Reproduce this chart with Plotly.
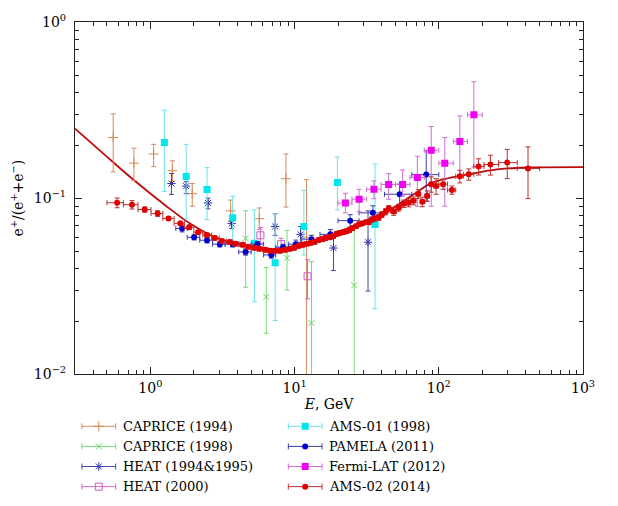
import math
import plotly.graph_objects as go

# ---------------- data ----------------
# CAPRICE (1994)
cap94_E = [0.552, 0.769, 1.053, 1.42, 1.95, 3.60, 5.69, 8.71, 12.1]
cap94_r = [0.221, 0.158, 0.178, 0.143, 0.106, 0.0847, 0.0764, 0.129, 0.060]
cap94_up = [0.080, 0.034, 0.024, 0.020, 0.015, 0.0128, 0.0116, 0.049, 0.0675]
cap94_dn = [0.080, 0.032, 0.027, 0.019, 0.016, 0.0111, 0.0100, 0.040, 0.0675]

# CAPRICE (1998)
cap98_E = [4.57, 6.36, 8.86, 13.1, 25.9]
cap98_r = [0.0592, 0.0275, 0.0458, 0.0195, 0.032]
cap98_up = [0.0255, 0.0128, 0.0198, 0.0241, 0.036]
cap98_dn = [0.0280, 0.0104, 0.0157, 0.0241, 0.036]

# HEAT (1994&1995)
heat94_E = [1.40, 1.77, 2.51, 3.66, 7.33, 11.0, 18.6, 32.3]
heat94_r = [0.121, 0.117, 0.0938, 0.0717, 0.069, 0.0623, 0.0521, 0.0562]
heat94_up = [0.017, 0.007, 0.0062, 0.0047, 0.0125, 0.0067, 0.0094, 0.0285]
heat94_dn = [0.016, 0.011, 0.0069, 0.0044, 0.0075, 0.0061, 0.0133, 0.0265]

# HEAT (2000)
heat00_E = [5.79, 8.06, 12.3]
heat00_r = [0.0615, 0.0548, 0.036]
heat00_up = [0.0066, 0.0044, 0.0087]
heat00_dn = [0.0060, 0.0047, 0.0092]

# AMS-01 (1998)
ams01_E = [1.25, 1.77, 2.47, 3.72, 5.26, 7.33, 11.6, 19.8, 36.1]
ams01_r = [0.207, 0.1325, 0.112, 0.0774, 0.0555, 0.043, 0.069, 0.1227, 0.0708]
ams01_up = [0.109, 0.0695, 0.037, 0.0252, 0.0303, 0.0385, 0.0417, 0.0483, 0.0857]
ams01_dn = [0.098, 0.0561, 0.0365, 0.0233, 0.0297, 0.0228, 0.0214, 0.0369, 0.0472]

# PAMELA (2011)
pam_E = [1.66, 2.01, 2.47, 3.03, 3.72, 4.57, 5.52, 6.89, 8.32, 10.2, 13.1, 17.7,
         24.3, 34.9, 53.5, 81.8]
pam_r = [0.0673, 0.0599, 0.0577, 0.0548, 0.0548, 0.0495, 0.0548, 0.0476, 0.0527,
         0.0548, 0.0585, 0.0623, 0.0745, 0.0825, 0.1052, 0.136]
pam_up = [0.003, 0.002, 0.002, 0.002, 0.002, 0.002, 0.002, 0.002, 0.002, 0.003,
          0.003, 0.004, 0.006, 0.008, 0.015, 0.050]
pam_dn = [0.003, 0.002, 0.002, 0.002, 0.002, 0.002, 0.002, 0.002, 0.002, 0.003,
          0.003, 0.004, 0.006, 0.008, 0.015, 0.040]
pam_edges = [1.5, 1.8, 2.2, 2.7, 3.3, 4.1, 5.0, 6.1, 7.4, 9.1, 11.2, 15, 20, 28,
             42, 65, 100]

# Fermi-LAT (2012)
fermi_E = [22.5, 28.0, 35.5, 44.9, 56.1, 71.0, 88.6, 110, 140, 175]
fermi_r = [0.0938, 0.0987, 0.1122, 0.1196, 0.1196, 0.1309, 0.187, 0.158, 0.21, 0.297]
fermi_up = [0.0128, 0.0135, 0.013, 0.018, 0.025, 0.042, 0.068, 0.063, 0.083, 0.161]
fermi_dn = [0.0113, 0.0150, 0.013, 0.021, 0.017, 0.041, 0.097, 0.068, 0.078, 0.147]
fermi_edges = [20, 25, 31.6, 39.8, 50.1, 63.1, 79.4, 100, 126, 158, 200]

# AMS-02 (2014)
ams02_E = [0.588, 0.745, 0.914, 1.122, 1.335, 1.613, 1.859, 2.142, 2.469, 2.802,
           3.128, 3.548, 3.900, 4.356, 4.787, 5.263, 5.695, 6.262, 6.773, 7.332,
           7.930, 8.583, 9.286, 9.890, 10.70, 11.40, 12.14, 12.93, 13.77, 14.67,
           15.63, 16.38, 17.45, 18.59, 19.49, 20.43, 21.76, 22.82, 23.92, 25.07,
           26.71, 28.01, 29.37, 31.28, 32.80, 34.39, 36.05, 38.39, 40.25, 42.87,
           44.96, 48.64, 52.63, 56.95, 61.62, 66.68, 72.15, 76.85, 83.18, 88.60,
           95.83, 107.0, 123.4, 139.9, 161.3, 188.8, 228.1, 298.3, 415.5]
ams02_r = [0.0942, 0.0918, 0.0861, 0.0818, 0.0767, 0.0719, 0.0684, 0.0641, 0.0617, 0.0594,
           0.0571, 0.0564, 0.0550, 0.0543, 0.0529, 0.0522, 0.0516, 0.0509, 0.0503, 0.0503,
           0.0503, 0.0509, 0.0516, 0.0522, 0.0536, 0.0543, 0.0550, 0.0557, 0.0564, 0.0579,
           0.0586, 0.0594, 0.0601, 0.0609, 0.0625, 0.0633, 0.0641, 0.0649, 0.0658, 0.0675,
           0.0692, 0.0710, 0.0719, 0.0729, 0.0729, 0.0757, 0.0767, 0.0777, 0.0807, 0.0839,
           0.0872, 0.0839, 0.0883, 0.0930, 0.0942, 0.0966, 0.1057, 0.0954, 0.1030, 0.1201,
           0.1171, 0.1201, 0.1112, 0.1330, 0.1365, 0.1513, 0.1552, 0.1591, 0.1474]
ams02_err = [0.006, 0.005, 0.003, 0.003, 0.002, 0.002, 0.002, 0.0015, 0.0015, 0.0015,
             0.0015, 0.0015, 0.0015, 0.0015, 0.0015, 0.0015, 0.0015, 0.0015, 0.0015, 0.0015,
             0.0015, 0.0015, 0.0015, 0.0015, 0.0015, 0.0015, 0.0015, 0.0015, 0.0015, 0.0015,
             0.002, 0.002, 0.002, 0.002, 0.002, 0.002, 0.002, 0.002, 0.002, 0.002,
             0.002, 0.002, 0.002, 0.002, 0.002, 0.0025, 0.0025, 0.003, 0.003, 0.0035,
             0.0035, 0.004, 0.004, 0.0045, 0.005, 0.005, 0.006, 0.006, 0.007, 0.012,
             0.012, 0.008, 0.006, 0.011, 0.010, 0.016, 0.020, 0.030, 0.048]
ams02_edges = [0.5, 0.65, 0.82, 1.01, 1.22, 1.46, 1.72, 2.0, 2.31, 2.65, 3.0, 3.36,
               3.73, 4.12, 4.54, 5.0, 5.49, 6.0, 6.54, 7.1, 7.69, 8.3, 8.95, 9.62,
               10.32, 11.04, 11.8, 12.59, 13.41, 14.25, 15.14, 16.05, 17.0, 17.98,
               18.99, 20.04, 21.13, 22.25, 23.42, 24.62, 25.9, 27.25, 28.68, 30.21,
               31.82, 33.53, 35.36, 37.31, 39.39, 41.61, 44.0, 46.57, 50.8, 54.8,
               59.3, 64.1, 69.4, 74.5, 80.0, 86.0, 92.0, 100.0, 115.0, 131.0, 148.0,
               175.0, 206.0, 260.0, 350.0, 500.0]

# model curve
model_E = [0.3, 0.487, 0.756, 1.253, 1.918, 2.89, 4.42, 6.77, 9.28, 11.4, 18.3,
           29.4, 47.1, 64.6, 88.6, 115.8, 135.6, 174.6, 228, 298, 415, 1000]
model_r = [0.248, 0.175, 0.128, 0.0918, 0.0710, 0.0594, 0.0543, 0.0509, 0.0509,
           0.0536, 0.0617, 0.0729, 0.0872, 0.1030, 0.1216, 0.1297, 0.1330, 0.1383,
           0.1437, 0.1474, 0.1493, 0.150]

labels = ["CAPRICE (1994)", "CAPRICE (1998)", "HEAT (1994&amp;1995)", "HEAT (2000)",
          "AMS-01 (1998)", "PAMELA (2011)", "Fermi-LAT (2012)", "AMS-02 (2014)"]

x_ticks = [1, 10, 100, 1000]
x_ticktext = ["10<sup>0</sup>", "10<sup>1</sup>", "10<sup>2</sup>", "10<sup>3</sup>"]
y_ticks = [0.01, 0.1, 1]
y_ticktext = ["10<sup>\u22122</sup>", "10<sup>\u22121</sup>", "10<sup>0</sup>"]

# ---------------- styles ----------------
FONT = "DejaVu Serif, serif"
FS = 14
FS_LEG = 13
styles = [
    dict(marker=dict(symbol="cross-thin", size=7, color="rgb(214,134,88)",
                     line=dict(width=1, color="rgb(214,134,88)")), ecol="rgb(214,140,95)"),
    dict(marker=dict(symbol="x-thin", size=6, color="rgb(100,210,100)",
                     line=dict(width=1, color="rgb(100,210,100)")), ecol="rgb(120,220,120)"),
    dict(marker=dict(symbol="asterisk", size=7, color="rgb(50,50,170)",
                     line=dict(width=1, color="rgb(50,50,170)")), ecol="rgb(70,70,170)"),
    dict(marker=dict(symbol="square-open", size=7, color="rgb(205,90,200)",
                     line=dict(width=1, color="rgb(205,90,200)")), ecol="rgb(215,100,205)"),
    dict(marker=dict(symbol="square", size=7, color="rgb(0,230,235)",
                     line=dict(width=0)), ecol="rgb(110,225,235)"),
    dict(marker=dict(symbol="circle", size=6, color="rgb(0,0,205)",
                     line=dict(width=0)), ecol="rgb(60,60,170)"),
    dict(marker=dict(symbol="square", size=7, color="rgb(240,0,240)",
                     line=dict(width=0)), ecol="rgb(205,110,210)"),
    dict(marker=dict(symbol="circle", size=6, color="rgb(225,0,0)",
                     line=dict(width=0)), ecol="rgb(185,50,50)"),
]


def xerr_from_edges(E, edges):
    lo = [E[i] - edges[i] for i in range(len(E))]
    hi = [edges[i + 1] - E[i] for i in range(len(E))]
    return lo, hi


fig = go.Figure()

# model curve
fig.add_trace(go.Scatter(x=model_E, y=model_r, mode="lines",
                         line=dict(color="rgb(190,10,10)", width=1.8, shape="spline"),
                         hoverinfo="skip"))

sets = [
    (cap94_E, cap94_r, cap94_up, cap94_dn, None),
    (cap98_E, cap98_r, cap98_up, cap98_dn, None),
    (heat94_E, heat94_r, heat94_up, heat94_dn, None),
    (heat00_E, heat00_r, heat00_up, heat00_dn, None),
    (ams01_E, ams01_r, ams01_up, ams01_dn, None),
    (pam_E, pam_r, pam_up, pam_dn, pam_edges),
    (fermi_E, fermi_r, fermi_up, fermi_dn, fermi_edges),
    (ams02_E, ams02_r, ams02_err, ams02_err, ams02_edges),
]

for (E, r, up, dn, edges), st, name in zip(sets, styles, labels):
    kw = {}
    if edges is not None:
        lo, hi = xerr_from_edges(E, edges)
        kw["error_x"] = dict(type="data", symmetric=False, array=hi, arrayminus=lo,
                             color=st["ecol"], thickness=1, width=2.5)
    fig.add_trace(go.Scatter(
        x=E, y=r, mode="markers", name=name, marker=st["marker"],
        error_y=dict(type="data", symmetric=False, array=up, arrayminus=dn,
                     color=st["ecol"], thickness=1, width=2.5),
        **kw))

# ---------------- page geometry ----------------
# the html body shifts the figure 8px to the right
XOFF = 8
W, H = 618 - XOFF, 498
L, R, T, B = 71 - XOFF, 35, 13, 4
plot_h = H - T - B
ybottom_dom = (H - B - 372) / plot_h
leg_top = 0.25
paper_bottom = H - B

# ---------------- custom legend (two columns, gnuplot style) ----------------
row_y = [425, 445.5, 466, 486.5]
col_x = [95, 303]
half_len = 17
for i, (name, st) in enumerate(zip(labels, styles)):
    c, rr = divmod(i, 4)
    fig.add_trace(go.Scatter(
        x=[col_x[c]], y=[row_y[rr]], mode="markers", xaxis="x2", yaxis="y2",
        marker=st["marker"], hoverinfo="skip",
        error_x=dict(type="constant", value=half_len, color=st["ecol"],
                     thickness=1, width=3)))
    fig.add_annotation(x=col_x[c] + 22, y=row_y[rr], xref="x2", yref="y2",
                       text=name, showarrow=False, xanchor="left", yanchor="middle",
                       font=dict(family=FONT, size=FS_LEG, color="black"))

minor_x = [m * 10 ** d for d in range(-1, 3) for m in range(2, 10) if 0.3 <= m * 10 ** d <= 1000]
minor_y = [m * 10 ** d for d in (-2, -1) for m in range(2, 10)]

axis_common = dict(showline=True, linecolor="#222", linewidth=1.2, mirror="allticks",
                   ticks="inside", ticklen=7, tickwidth=1, tickcolor="#222",
                   showgrid=False, zeroline=False, ticklabeloverflow="allow",
                   tickfont=dict(family=FONT, size=FS, color="black"))

fig.update_layout(
    width=W, height=H,
    margin=dict(l=L, r=R, t=T, b=B),
    paper_bgcolor="white", plot_bgcolor="white",
    showlegend=False,
    font=dict(family=FONT, size=FS, color="black"),
    xaxis=dict(type="log", range=[math.log10(0.3), 3], domain=[0, 1], anchor="y",
               tickmode="array", tickvals=x_ticks, ticktext=x_ticktext,
               ticklabelstandoff=1,
               minor=dict(tickmode="array", tickvals=minor_x, ticks="inside",
                          ticklen=4, tickcolor="#222", showgrid=False),
               title=dict(text="<i>E</i>, GeV", standoff=0,
                          font=dict(family=FONT, size=FS, color="black")),
               **axis_common),
    yaxis=dict(type="log", range=[-2, 0], domain=[ybottom_dom, 1], anchor="x",
               tickmode="array", tickvals=y_ticks, ticktext=y_ticktext,
               ticklabelstandoff=5,
               minor=dict(tickmode="array", tickvals=minor_y, ticks="inside",
                          ticklen=4, tickcolor="#222", showgrid=False),
               title=dict(text="e<sup>+</sup>/(e<sup>+</sup>+e<sup>\u2212</sup>)", standoff=12,
                          font=dict(family=FONT, size=FS, color="black")),
               **axis_common),
    xaxis2=dict(domain=[0, 1], range=[71, 583], anchor="y2", visible=False,
                fixedrange=True),
    yaxis2=dict(domain=[0, leg_top], range=[paper_bottom, paper_bottom - leg_top * plot_h],
                anchor="x2", visible=False, fixedrange=True),
)

fig.write_html("out.html")
